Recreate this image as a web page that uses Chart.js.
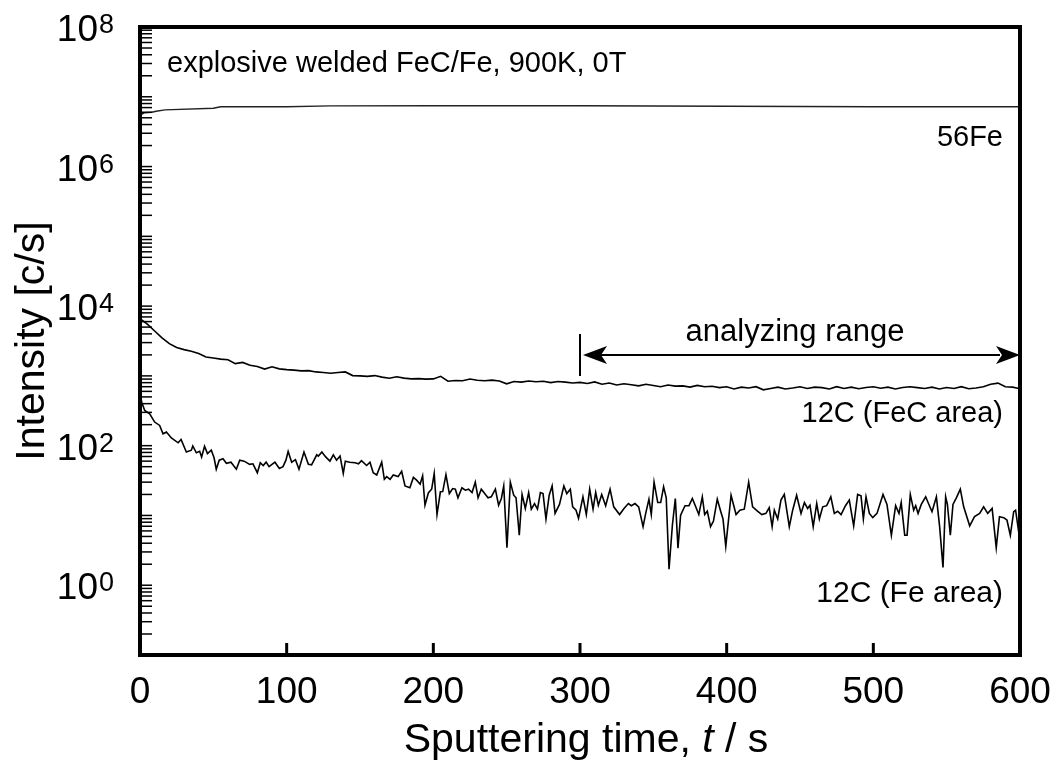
<!DOCTYPE html>
<html>
<head>
<meta charset="utf-8">
<script src="https://cdn.jsdelivr.net/npm/chart.js@4.4.0/dist/chart.umd.min.js"></script>
<style>
  html, body { margin: 0; padding: 0; background: #fff; }
</style>
</head>
<body>
<canvas id="myChart" width="1059" height="762"></canvas>
<script>
// 56Fe signal (c/s) vs sputtering time (s)
var fe56Time = [0, 1, 3, 8, 11, 17, 50, 55, 100, 130, 200, 300, 400, 500, 600];
var fe56Counts = [5.0e6, 5.6e6, 5.9e6, 6.0e6, 6.2e6, 6.5e6, 6.85e6, 7.2e6, 7.2e6, 7.4e6, 7.45e6, 7.45e6, 7.3e6, 7.2e6, 7.2e6];

// 12C in the FeC area, every 5 s
var fecTime = [0, 5, 10, 15, 20, 25, 30, 35, 40, 45, 50, 55, 60, 65, 70, 75, 80, 85, 90, 95,
  100, 105, 110, 115, 120, 125, 130, 135, 140, 145, 150, 155, 160, 165, 170, 175, 180, 185, 190, 195,
  200, 205, 210, 215, 220, 225, 230, 235, 240, 245, 250, 255, 260, 265, 270, 275, 280, 285, 290, 295,
  300, 305, 310, 315, 320, 325, 330, 335, 340, 345, 350, 355, 360, 365, 370, 375, 380, 385, 390, 395,
  400, 405, 410, 415, 420, 425, 430, 435, 440, 445, 450, 455, 460, 465, 470, 475, 480, 485, 490, 495,
  500, 505, 510, 515, 520, 525, 530, 535, 540, 545, 550, 555, 560, 565, 570, 575, 580, 585, 590, 595, 600];
var fecCounts = [6600, 5500, 4400, 3500, 2900, 2550, 2380, 2250, 2100, 1870, 1800, 1740, 1700, 1500, 1560, 1420, 1360, 1250, 1350, 1260,
  1230, 1210, 1180, 1190, 1140, 1120, 1090, 1120, 1140, 1010, 1000, 985, 1010, 960, 925, 970, 930, 905, 915, 900,
  905, 985, 840, 860, 850, 900, 865, 850, 870, 845, 770, 830, 815, 845, 825, 838, 800, 830, 815, 790,
  806, 780, 820, 760, 790, 740, 770, 745, 720, 760, 730, 700, 740, 713, 720, 690, 730, 700, 710, 680,
  700, 650, 690, 670, 700, 631, 660, 690, 650, 670, 700, 660, 690, 678, 650, 700, 660, 690, 655, 680,
  700, 665, 690, 650, 680, 700, 678, 660, 690, 650, 680, 660, 700, 655, 670, 700, 760, 787, 700, 690, 655];

// 12C in the Fe area
var feAreaTime = [0, 1.2, 3.2, 6.6, 10, 13.4, 15.7, 18, 21.4, 26, 28, 31.6, 35, 36, 38.4, 40.7, 42, 44, 46, 48.6,
  50.5, 52, 54, 56.6, 58.9, 62, 65.7, 68, 71, 74.8, 77, 80, 82, 84, 86, 88, 92, 95, 97.5, 99.5,
  101, 103.4, 106, 108.4, 111.8, 114.8, 117, 120.5, 121.6, 124, 126.6, 129.5, 131.8, 134, 136.4, 138.6, 140, 143, 146.6, 149,
  151, 154.5, 156.8, 159, 161.4, 164.8, 166.6, 168.2, 170.5, 172.7, 176, 178.4, 180.7, 184, 186.4, 188.6, 191, 192.7, 194.3, 196.6,
  198.9, 200.6, 202.5, 204.8, 206.4, 208.6, 210.9, 213.2, 215, 216.8, 219.5, 221.8, 224, 226.4, 228.6, 230.5, 232.7, 235, 237.3, 239.5,
  242.3, 244.5, 246.4, 248, 250.2, 252.5, 254.8, 256.4, 258.6, 260.5, 262.7, 265, 266.8, 269, 271, 273, 274.8, 276.8, 279, 281,
  283, 286, 289, 291, 293.4, 295, 297.3, 299, 302, 304.3, 306.6, 308.9, 310.7, 312.5, 314.8, 317.5, 320.5, 323, 327, 330,
  333, 335, 337.5, 340, 343, 344.8, 347, 348.6, 350.5, 353, 355, 357, 358.8, 360.7, 363, 365, 366.8, 368.6, 371.6, 374.3,
  376.6, 378.9, 381, 383.4, 385, 386.8, 389, 391, 393.6, 396, 397.5, 399.4, 403, 406.4, 409, 412, 415, 417.7, 421, 424,
  426.8, 429, 431, 432.5, 434.8, 437, 439.3, 442.7, 445, 447.7, 450.7, 453, 455.2, 456.8, 459, 461.4, 463.2, 465.5, 468.2, 471,
  473.4, 475.7, 478, 481, 483.6, 486.6, 489.3, 491.6, 493.2, 495, 497.3, 499.6, 502.5, 506.6, 509.3, 512.3, 515.2, 517.5, 519, 521.4,
  523, 525.2, 527.5, 528.9, 530.5, 532.7, 535.7, 537.3, 540, 543, 545.2, 547.5, 549.3, 550.5, 552.5, 554.3, 556.6, 559.3, 561.6, 565.7,
  569, 572.5, 575.2, 578, 581, 583.8, 586, 588.9, 591.1, 593.4, 595.7, 597, 598.6, 600];
var feAreaCounts = [550, 420, 319, 286, 218, 195, 148, 157, 129, 110, 123, 81, 86, 99, 79, 83, 69, 98, 77, 86,
  67, 46, 62, 65, 56, 58, 46, 62, 60, 54, 55, 41, 57, 52, 58, 50, 58, 47, 50, 62,
  83, 58, 63, 46, 81, 54, 53, 74, 71, 81, 69, 60, 74, 62, 71, 40, 60, 58, 57, 55,
  61, 52, 58, 41, 38, 58, 33, 36, 33, 38, 36, 43, 26.5, 25, 35, 32, 28, 37, 14, 21,
  24, 40, 10.3, 21.8, 22, 38.5, 20.6, 24.3, 23.8, 17.9, 24.9, 23, 23.8, 21.3, 30, 17.9, 23.8, 20.6, 17.9, 18.5,
  23.8, 14, 17.5, 26.5, 3.45, 30, 19.5, 17.9, 5.2, 20, 12.6, 21.3, 12.3, 14.8, 12.3, 21.3, 20.6, 8.9, 19.5, 26.5,
  10.7, 14.4, 26.5, 20.6, 23.8, 13.3, 11.9, 9.1, 18.5, 10.3, 23.8, 12.3, 21.3, 14, 20, 13.8, 23.8, 13.3, 10.3, 12.6,
  14.8, 13.8, 14.8, 13.3, 6.9, 10.7, 17.1, 10.3, 30, 15.3, 15.3, 25.7, 17.9, 1.7, 7.3, 17.5, 3.4, 10.1, 13.8, 13.8,
  17.5, 13.3, 10.3, 18.5, 10.3, 11.5, 6.9, 8.3, 17.1, 11.3, 8.9, 3.6, 19.5, 10.3, 11.9, 12.3, 30, 13.3, 11.5, 10.3,
  10.7, 12.9, 6.9, 11.9, 8.9, 16.6, 20, 6.9, 11.9, 19.5, 10.7, 15.3, 12.6, 14, 6.9, 14.8, 8.9, 13.3, 13.8, 18.5,
  10.7, 11.5, 10.3, 13.8, 16.6, 7.1, 20, 19.1, 8.9, 18.5, 10.7, 9.3, 10.7, 20, 14.4, 5.2, 13.8, 10.7, 15.3, 5.2,
  5.2, 20, 11.9, 13.8, 10.7, 14.4, 18.5, 15.3, 11.3, 18.5, 6.9, 1.8, 18.5, 14.4, 5.2, 14.4, 17.9, 23.8, 13.3, 7.1,
  9.6, 10.7, 13.3, 10.7, 12.6, 3.45, 9.6, 9.3, 8.6, 5.2, 11.3, 11.9, 6.9, 11];

var xTicks = [0, 100, 200, 300, 400, 500, 600];
var yLabelExps = [0, 2, 4, 6, 8];
var yMin = 0.1, yMax = 1e8;
var rangeStart = 300, rangeEnd = 600, rangeLevel = 2000;

function pairs(xs, ys) {
  return xs.map(function (x, i) { return { x: x, y: ys[i] }; });
}

var FONT = '"Liberation Sans", Arial, sans-serif';

var overlay = {
  id: 'overlay',
  afterDraw: function (chart) {
    var ctx = chart.ctx;
    var a = chart.chartArea;
    var xs = chart.scales.x;
    var ys = chart.scales.y;
    ctx.save();
    ctx.strokeStyle = '#000';
    ctx.fillStyle = '#000';

    // inward minor/major ticks on the log axis
    ctx.lineWidth = 1.5;
    for (var d = -1; d < 8; d++) {
      for (var k = 1; k <= 9; k++) {
        var py = ys.getPixelForValue(k * Math.pow(10, d));
        ctx.beginPath();
        ctx.moveTo(a.left, py);
        ctx.lineTo(a.left + 12, py);
        ctx.stroke();
      }
    }
    // x ticks
    ctx.lineWidth = 3;
    xTicks.forEach(function (t) {
      if (t === xs.min || t === xs.max) return;
      var px = xs.getPixelForValue(t);
      ctx.beginPath();
      ctx.moveTo(px, a.bottom);
      ctx.lineTo(px, a.bottom - 12);
      ctx.stroke();
    });

    // frame
    ctx.lineWidth = 4;
    ctx.strokeRect(a.left, a.top, a.right - a.left, a.bottom - a.top);

    // x tick labels
    ctx.font = '37px ' + FONT;
    ctx.textAlign = 'center';
    ctx.textBaseline = 'alphabetic';
    xTicks.forEach(function (t) {
      ctx.fillText(String(t), xs.getPixelForValue(t), a.bottom + 48);
    });

    // y tick labels 10^n
    yLabelExps.forEach(function (e) {
      var py = ys.getPixelForValue(Math.pow(10, e));
      ctx.font = '37px ' + FONT;
      ctx.textAlign = 'right';
      ctx.fillText('10', 98, py + 14);
      ctx.font = '27px ' + FONT;
      ctx.textAlign = 'left';
      ctx.fillText(String(e), 99, py + 6);
    });

    // axis titles
    ctx.font = '41px ' + FONT;
    ctx.save();
    ctx.translate(44, (a.top + a.bottom) / 2);
    ctx.rotate(-Math.PI / 2);
    ctx.textAlign = 'center';
    ctx.fillText('Intensity [c/s]', 0, 0);
    ctx.restore();

    var p1 = 'Sputtering time, ', p2 = 't', p3 = ' / s';
    ctx.font = '41px ' + FONT;
    var w1 = ctx.measureText(p1).width, w3 = ctx.measureText(p3).width;
    ctx.font = 'italic 41px ' + FONT;
    var w2 = ctx.measureText(p2).width;
    var x0 = 586 - (w1 + w2 + w3) / 2;
    ctx.textAlign = 'left';
    ctx.font = '41px ' + FONT;
    ctx.fillText(p1, x0, 752);
    ctx.font = 'italic 41px ' + FONT;
    ctx.fillText(p2, x0 + w1, 752);
    ctx.font = '41px ' + FONT;
    ctx.fillText(p3, x0 + w1 + w2, 752);

    // annotations
    ctx.font = '29px ' + FONT;
    ctx.textAlign = 'left';
    ctx.fillText('explosive welded FeC/Fe, 900K, 0T', a.left + 27, 72);
    ctx.textAlign = 'right';
    ctx.fillText('56Fe', a.right - 17, 146);
    ctx.fillText('12C (FeC area)', a.right - 17, 422);
    ctx.font = '30px ' + FONT;
    ctx.fillText('12C (Fe area)', a.right - 17, 602);

    // analyzing range arrow
    var xa = xs.getPixelForValue(rangeStart);
    var xb = xs.getPixelForValue(rangeEnd);
    var yl = ys.getPixelForValue(rangeLevel);
    ctx.lineWidth = 2;
    ctx.beginPath();
    ctx.moveTo(xa, yl - 21);
    ctx.lineTo(xa, yl + 21);
    ctx.moveTo(xa + 20, yl);
    ctx.lineTo(xb - 20, yl);
    ctx.stroke();
    ctx.beginPath();
    ctx.moveTo(xa + 3, yl);
    ctx.lineTo(xa + 27, yl - 9);
    ctx.lineTo(xa + 21, yl);
    ctx.lineTo(xa + 27, yl + 9);
    ctx.closePath();
    ctx.fill();
    ctx.beginPath();
    ctx.moveTo(xb, yl);
    ctx.lineTo(xb - 24, yl - 9);
    ctx.lineTo(xb - 18, yl);
    ctx.lineTo(xb - 24, yl + 9);
    ctx.closePath();
    ctx.fill();
    ctx.font = '31px ' + FONT;
    ctx.textAlign = 'center';
    ctx.fillText('analyzing range', 795, yl - 14);

    ctx.restore();
  }
};

var ctx = document.getElementById('myChart').getContext('2d');
var chart = new Chart(ctx, {
  type: 'line',
  data: {
    datasets: [
      { label: '56Fe', data: pairs(fe56Time, fe56Counts), borderColor: '#222', borderWidth: 1.4 },
      { label: '12C (FeC area)', data: pairs(fecTime, fecCounts), borderColor: '#000', borderWidth: 1.6 },
      { label: '12C (Fe area)', data: pairs(feAreaTime, feAreaCounts), borderColor: '#000', borderWidth: 1.6 }
    ]
  },
  options: {
    responsive: false,
    animation: false,
    devicePixelRatio: 1,
    layout: { padding: { top: 27, right: 39, left: 0, bottom: 0 } },
    elements: { point: { radius: 0 }, line: { tension: 0, fill: false } },
    plugins: { legend: { display: false }, tooltip: { enabled: false } },
    scales: {
      x: {
        type: 'linear', min: 0, max: 600,
        ticks: { display: false }, grid: { display: false }, border: { display: false },
        afterFit: function (s) { s.height = 107; }
      },
      y: {
        type: 'logarithmic', min: yMin, max: yMax,
        ticks: { display: false }, grid: { display: false }, border: { display: false },
        afterFit: function (s) { s.width = 140; }
      }
    }
  },
  plugins: [overlay]
});
</script>
</body>
</html>
